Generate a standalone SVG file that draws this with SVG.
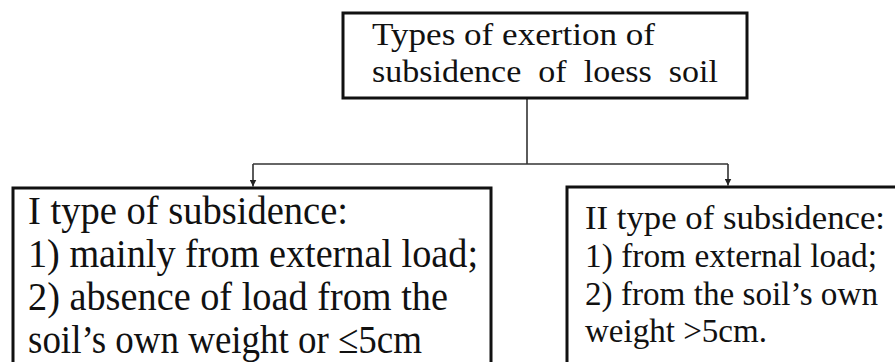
<svg xmlns="http://www.w3.org/2000/svg" width="895" height="362" viewBox="0 0 895 362">
<style>
.box{fill:#fff;stroke:#111;stroke-width:3}
.t{font-family:"Liberation Serif","Times New Roman",serif;fill:#111}
.conn{fill:none;stroke:#333;stroke-width:1.6}
</style>
<defs>
<marker id="ah" viewBox="0 0 10 10" refX="10" refY="5" markerWidth="7" markerHeight="7" markerUnits="userSpaceOnUse" orient="auto">
<path d="M0,0 L10,5 L0,10 z" fill="#222"/>
</marker>
</defs>
<rect width="895" height="362" fill="#fff"/>
<g id="connectors">
<path class="conn" d="M527,99 V164"/>
<path class="conn" d="M253,164 H728"/>
<path class="conn" d="M253,164 V186.5" marker-end="url(#ah)"/>
<path class="conn" d="M728,164 V185.5" marker-end="url(#ah)"/>
</g>
<g id="root">
<rect class="box" x="343" y="13" width="404" height="85"/>
<text class="t" font-size="31" x="372" y="45" textLength="283" lengthAdjust="spacingAndGlyphs">Types of exertion of</text>
<text class="t" font-size="31" x="372" y="82" textLength="346" lengthAdjust="spacingAndGlyphs" xml:space="preserve">subsidence  of  loess  soil</text>
</g>
<g id="type1">
<rect class="box" x="13" y="188" width="478" height="190"/>
<text class="t" font-size="41" x="28" y="224" textLength="320" lengthAdjust="spacingAndGlyphs">I type of subsidence:</text>
<text class="t" font-size="41" x="28" y="267" textLength="450" lengthAdjust="spacingAndGlyphs">1) mainly from external load;</text>
<text class="t" font-size="41" x="28" y="310" textLength="420" lengthAdjust="spacingAndGlyphs">2) absence of load from the</text>
<text class="t" font-size="41" x="28" y="353" textLength="394" lengthAdjust="spacingAndGlyphs">soil’s own weight or ≤5cm</text>
</g>
<g id="type2">
<rect class="box" x="567" y="187" width="340" height="190"/>
<text class="t" font-size="34" x="585" y="229" textLength="300" lengthAdjust="spacingAndGlyphs">II type of subsidence:</text>
<text class="t" font-size="34" x="585" y="267" textLength="292" lengthAdjust="spacingAndGlyphs">1) from external load;</text>
<text class="t" font-size="34" x="585" y="305" textLength="293" lengthAdjust="spacingAndGlyphs">2) from the soil’s own</text>
<text class="t" font-size="34" x="585" y="342" textLength="182" lengthAdjust="spacingAndGlyphs">weight &gt;5cm.</text>
</g>
</svg>
